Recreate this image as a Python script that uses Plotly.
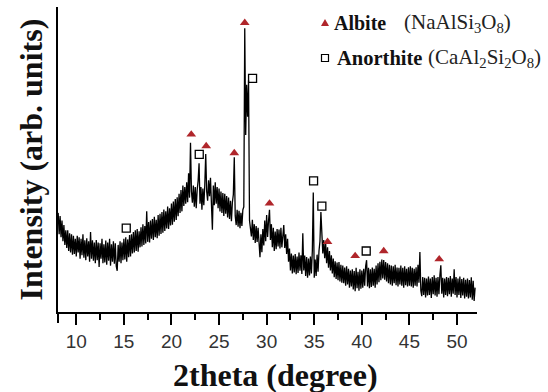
import plotly.graph_objects as go

# 2theta grid start / step (degrees)
theta_start = 8.1
theta_step = 0.1

# Intensity (arbitrary units), 8.1 .. 51.9 deg
intensity = [
    325, 255, 315, 245, 300, 232, 285, 220, 268,
    210, 268, 200, 258, 195, 255, 188, 250, 190, 240,
    182, 250, 195, 245, 175, 240, 186, 255, 178, 235,
    170, 242, 182, 232, 165, 262, 175, 235, 168, 228,
    160, 236, 170, 228, 148, 225, 175, 240, 160, 222,
    162, 234, 155, 228, 168, 240, 152, 222, 165, 232,
    158, 225, 150, 135, 220, 165, 232, 160, 228, 170,
    240, 172, 245, 165, 238, 180, 252, 182, 255, 192,
    262, 195, 268, 200, 272, 198, 265, 212, 278, 215,
    288, 220, 282, 225, 330, 230, 295, 228, 300, 240,
    305, 236, 312, 245, 302, 242, 318, 250, 322, 256,
    328, 260, 336, 266, 330, 274, 346, 272, 340, 284,
    356, 286, 362, 296, 370, 302, 376, 314, 388, 325,
    400, 330, 415, 348, 410, 355, 425, 360, 455, 375,
    555, 395, 358, 415, 345, 410, 340, 400, 430, 488,
    355, 410, 335, 405, 350, 415, 518, 395, 365, 432,
    380, 440, 355, 270, 415, 350, 425, 355, 410, 340,
    405, 330, 395, 325, 390, 315, 388, 322, 380, 310,
    375, 305, 365, 298, 360, 385, 507, 315, 285, 335,
    280, 332, 275, 325, 282, 335, 345, 930, 580, 745,
    640, 760, 300, 270, 248, 302, 236, 288, 226, 282,
    230, 276, 212, 180, 255, 196, 272, 218, 300, 232,
    318, 246, 300, 335, 236, 288, 212, 276, 200, 264,
    206, 272, 215, 270, 208, 276, 212, 265, 285, 210,
    255, 190, 240, 165, 208, 136, 192, 126, 185, 130,
    190, 124, 182, 128, 195, 135, 186, 125, 258, 136,
    185, 118, 180, 112, 175, 120, 182, 126, 200, 392,
    112, 172, 118, 188, 132, 200, 232, 328, 255, 192,
    236, 176, 225, 160, 212, 145, 200, 136, 186, 126,
    175, 114, 166, 108, 162, 104, 164, 100, 155, 96,
    152, 94, 146, 86, 150, 90, 142, 80, 136, 84,
    140, 74, 134, 68, 145, 78, 132, 70, 140, 76,
    136, 80, 142, 86, 150, 170, 84, 145, 78, 140,
    82, 146, 86, 142, 80, 152, 90, 160, 98, 165,
    104, 172, 110, 170, 106, 164, 100, 160, 94, 155,
    90, 152, 86, 150, 94, 155, 88, 146, 84, 145,
    90, 152, 86, 145, 80, 150, 88, 142, 84, 147,
    86, 150, 84, 145, 80, 142, 86, 147, 84, 155,
    96, 197, 70, 52, 115, 56, 112, 48, 110, 54,
    116, 56, 110, 46, 115, 58, 120, 54, 112, 50,
    115, 58, 120, 153, 60, 112, 48, 110, 56, 115,
    52, 112, 58, 118, 50, 110, 60, 140, 56, 115,
    48, 110, 56, 116, 46, 108, 54, 112, 44, 106,
    50, 110, 44, 105, 48, 114, 40, 102, 36, 80,
]
two_theta = [round(theta_start + theta_step * i, 2) for i in range(len(intensity))]

# Phase markers
albite_x = [22.08, 23.65, 26.6, 27.7, 30.3, 36.4, 39.3, 42.3, 48.13]
albite_y = [582, 544, 521, 948, 356, 230, 184, 200, 173]
anorthite_x = [15.25, 22.92, 28.52, 34.93, 35.8, 40.46]
anorthite_y = [275, 517, 766, 430, 347, 200]

tick_vals = [10, 15, 20, 25, 30, 35, 40, 45, 50]
tick_text = [str(v) for v in tick_vals]
minor_vals = [12.5, 17.5, 22.5, 27.5, 32.5, 37.5, 42.5, 47.5]

RED = "#b0262b"
SERIF = "Liberation Serif"

fig = go.Figure()
fig.add_trace(go.Scatter(x=two_theta, y=intensity, mode="lines",
                         line=dict(color="black", width=1.3), hoverinfo="skip"))
fig.add_trace(go.Scatter(x=albite_x, y=albite_y, mode="markers",
                         marker=dict(symbol="triangle-up", size=8.5, color=RED)))
fig.add_trace(go.Scatter(x=anorthite_x, y=anorthite_y, mode="markers",
                         marker=dict(symbol="square-open", size=8, color="black",
                                     line=dict(width=1.3, color="black"))))

fig.update_layout(
    width=548, height=392,
    margin=dict(l=58, r=71, t=7, b=80),
    paper_bgcolor="white", plot_bgcolor="white",
    showlegend=False,
    xaxis=dict(range=[8.08, 52.1], showline=True, linecolor="black", linewidth=2,
               ticks="outside", ticklen=11, tickwidth=2, tickcolor="black",
               tickmode="array", tickvals=tick_vals, ticktext=tick_text,
               tickfont=dict(family="Liberation Sans, Arial", size=19, color="#333"),
               showgrid=False, zeroline=False,
               minor=dict(ticks="outside", ticklen=6, tickwidth=2, tickcolor="black",
                          tickmode="array", tickvals=minor_vals, showgrid=False)),
    yaxis=dict(range=[0, 1000], showline=True, linecolor="black", linewidth=2,
               showticklabels=False, ticks="", showgrid=False, zeroline=False),
)

def px_x(p):
    return (p - 58) / 419.0

def px_y(p):
    return (312 - p) / 305.0

annotations = [
    dict(text="<b>2theta (degree)</b>", x=px_x(275), y=px_y(375), xref="paper", yref="paper",
         xanchor="center", yanchor="middle", showarrow=False,
         font=dict(family=SERIF, size=32, color="#111")),
    dict(text="<b>Intensity (arb. units)</b>", x=px_x(30), y=px_y(159.5), xref="paper", yref="paper",
         xanchor="center", yanchor="middle", showarrow=False, textangle=-90,
         font=dict(family=SERIF, size=32, color="#111")),
    dict(text="<b>Albite</b>", x=px_x(332), y=px_y(23), xref="paper", yref="paper",
         xanchor="left", yanchor="middle", showarrow=False,
         font=dict(family=SERIF, size=20, color="#111")),
    dict(text="(NaAlSi<sub>3</sub>O<sub>8</sub>)", x=px_x(402), y=px_y(23), xref="paper", yref="paper",
         xanchor="left", yanchor="middle", showarrow=False,
         font=dict(family=SERIF, size=21, color="#222")),
    dict(text="<b>Anorthite</b>", x=px_x(335), y=px_y(58), xref="paper", yref="paper",
         xanchor="left", yanchor="middle", showarrow=False,
         font=dict(family=SERIF, size=20.5, color="#111")),
    dict(text="(CaAl<sub>2</sub>Si<sub>2</sub>O<sub>8</sub>)", x=px_x(426), y=px_y(58), xref="paper", yref="paper",
         xanchor="left", yanchor="middle", showarrow=False,
         font=dict(family=SERIF, size=21, color="#222")),
]
fig.update_layout(annotations=annotations)

shapes = [
    dict(type="path", xref="paper", yref="paper", xsizemode="pixel", ysizemode="pixel",
         xanchor=px_x(325), yanchor=px_y(23), path="M-4,-3 L4,-3 L0,4 Z",
         fillcolor=RED, line=dict(width=0)),
    dict(type="rect", xref="paper", yref="paper", xsizemode="pixel", ysizemode="pixel",
         xanchor=px_x(325), yanchor=px_y(58), x0=-3.5, x1=3.5, y0=-3.5, y1=3.5,
         fillcolor="white", line=dict(width=1.2, color="black")),
    dict(type="line", xref="paper", yref="paper", ysizemode="pixel", yanchor=0,
         x0=0, x1=0, y0=0, y1=-11, line=dict(width=2, color="black")),
]
fig.update_layout(shapes=shapes)

fig.write_html("out.html")
